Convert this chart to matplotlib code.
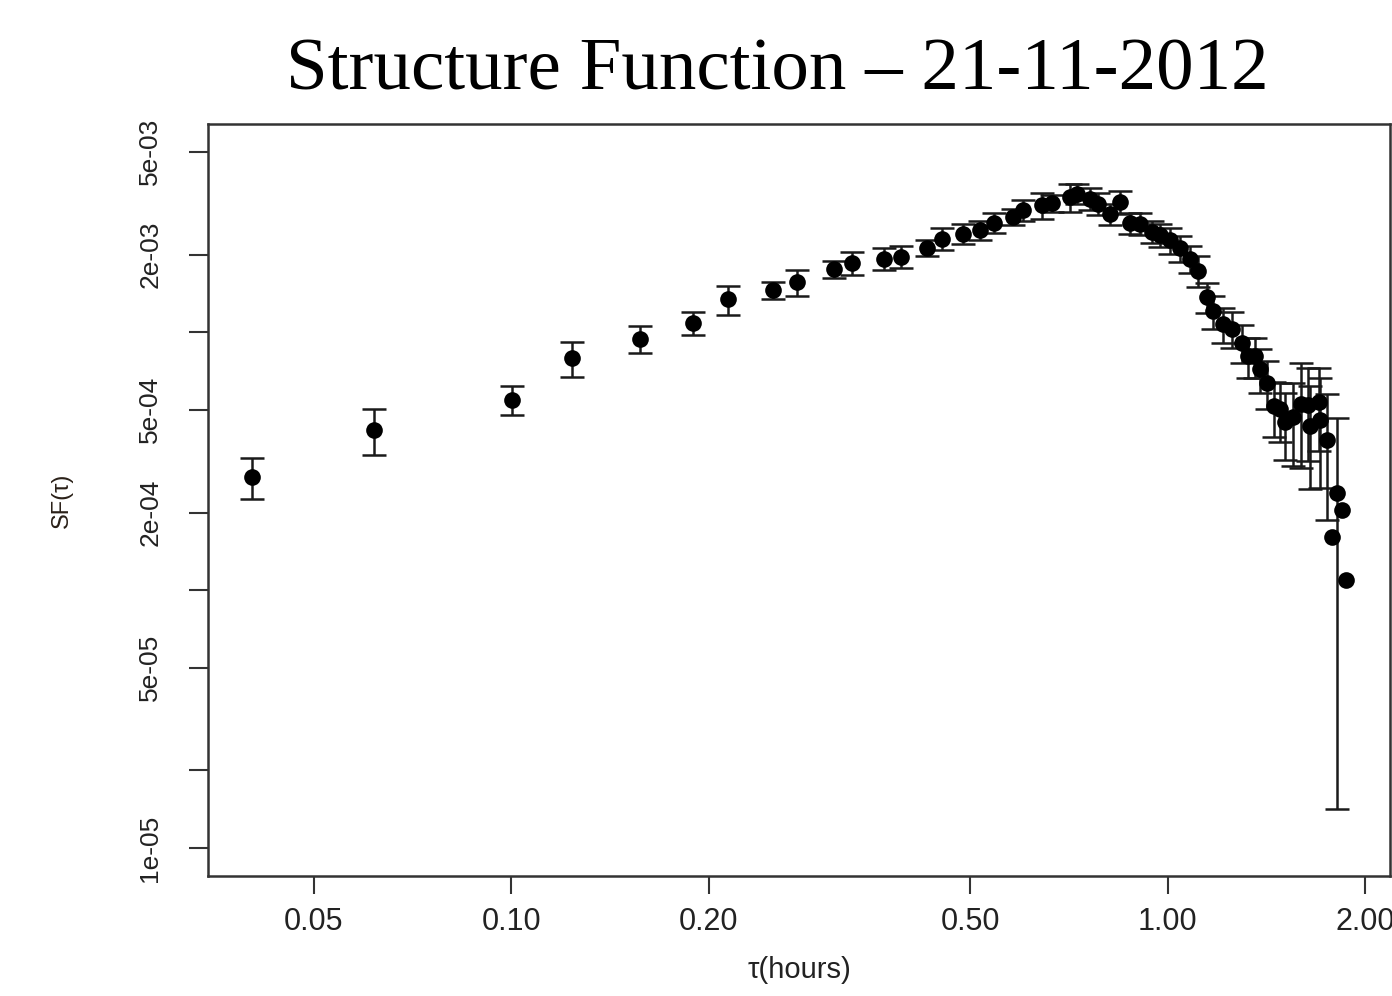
import numpy as np
import matplotlib
matplotlib.use("Agg")
import matplotlib.pyplot as plt
from matplotlib.ticker import FixedLocator, FixedFormatter, NullLocator

# ---- data ----
tau = [0.0402, 0.0617, 0.1002, 0.1237, 0.1570, 0.1894, 0.2135, 0.2500, 0.2720, 0.3101,
       0.3304, 0.3697, 0.3929, 0.4292, 0.4531, 0.4870, 0.5177, 0.5439, 0.5804, 0.6012,
       0.6437, 0.6667, 0.7087, 0.7278, 0.7619, 0.7835, 0.8171, 0.8464, 0.8767, 0.9080,
       0.9454, 0.9740, 1.0088, 1.0449, 1.0822, 1.1131, 1.1488, 1.1733, 1.2129, 1.2520,
       1.2968, 1.3268, 1.3597, 1.3836, 1.4183, 1.4505, 1.4840, 1.5103, 1.5533, 1.5948,
       1.6376, 1.6490, 1.6990, 1.7080, 1.7474, 1.7783, 1.8098, 1.8418, 1.8714]

sf = [2.754e-4, 4.19e-4, 5.475e-4, 7.93e-4, 9.44e-4, 1.088e-3, 1.342e-3, 1.455e-3, 1.562e-3, 1.755e-3,
      1.859e-3, 1.927e-3, 1.962e-3, 2.126e-3, 2.303e-3, 2.409e-3, 2.485e-3, 2.657e-3, 2.803e-3, 2.985e-3,
      3.107e-3, 3.162e-3, 3.336e-3, 3.441e-3, 3.291e-3, 3.148e-3, 2.867e-3, 3.205e-3, 2.645e-3, 2.633e-3,
      2.452e-3, 2.377e-3, 2.273e-3, 2.116e-3, 1.927e-3, 1.731e-3, 1.367e-3, 1.206e-3, 1.074e-3, 1.032e-3,
      9.107e-4, 8.07e-4, 8.07e-4, 7.19e-4, 6.37e-4, 5.166e-4, 5.052e-4, 4.497e-4, 4.68e-4, 5.28e-4,
      5.21e-4, 4.32e-4, 5.355e-4, 4.56e-4, 3.814e-4, 1.605e-4, 2.387e-4, 2.042e-4, 1.094e-4]

sf_err = [4.9e-5, 8.4e-5, 7.0e-5, 1.22e-4, 1.16e-4, 1.13e-4, 1.72e-4, 1.14e-4, 1.85e-4, 1.30e-4,
          1.92e-4, 1.89e-4, 1.92e-4, 1.47e-4, 2.27e-4, 2.13e-4, 2.08e-4, 2.35e-4, 1.95e-4, 2.79e-4,
          3.5e-4, 2.3e-4, 4.1e-4, 3.05e-4, 3.2e-4, 3.1e-4, 2.67e-4, 3.3e-4, 2.47e-4, 2.6e-4,
          2.4e-4, 2.45e-4, 2.57e-4, 2.4e-4, 2.27e-4, 2.4e-4, 1.81e-4, 1.73e-4, 1.65e-4, 1.63e-4,
          1.53e-4, 1.41e-4, 1.41e-4, 1.4e-4, 1.35e-4, 1.23e-4, 1.29e-4, 1.3e-4, 1.66e-4, 2.3e-4,
          2.04e-4, 1.85e-4, 1.9e-4, 2.07e-4, 1.94e-4, np.nan, 2.245e-4, np.nan, np.nan]

x_ticks = [0.05, 0.10, 0.20, 0.50, 1.00, 2.00]
x_ticklabels = ["0.05", "0.10", "0.20", "0.50", "1.00", "2.00"]
y_ticks = [1e-5, 2e-5, 5e-5, 1e-4, 2e-4, 5e-4, 1e-3, 2e-3, 5e-3]
y_ticklabels = ["1e-05", "", "5e-05", "", "2e-04", "5e-04", "", "2e-03", "5e-03"]
y_range = [1e-5, 5e-3]

title = "Structure Function \u2013 21-11-2012"
xlabel = "\u03c4(hours)"
ylabel = "SF(\u03c4)"

# ---- figure ----
W, H = 1392, 996
fig = plt.figure(figsize=(W / 100, H / 100), dpi=100)
fig.patch.set_facecolor("white")

ax_l, ax_r, ax_t, ax_b = 208, 1390, 124, 876
ax = fig.add_axes([ax_l / W, 1 - ax_b / H, (ax_r - ax_l) / W, (ax_b - ax_t) / H])
ax.set_xscale("log")
ax.set_yscale("log")

x = np.array(tau)
y = np.array(sf)
e = np.array(sf_err)
m = np.isfinite(e)

ax.errorbar(x[m], y[m], yerr=e[m], fmt="none", ecolor="#1a1a1a",
            elinewidth=1.8, capsize=8.5, capthick=1.8, zorder=2)
ax.plot(x, y, "o", color="black", markersize=12, markeredgewidth=0, zorder=3)

# R-like 4% axis extension
lx = np.log10(x)
span = lx.max() - lx.min()
ax.set_xlim(10 ** (lx.min() - 0.04 * span), 10 ** (lx.max() + 0.04 * span))
ly = np.log10(y_range)
yspan = ly[1] - ly[0]
ax.set_ylim(10 ** (ly[0] - 0.04 * yspan), 10 ** (ly[1] + 0.04 * yspan))

ax.xaxis.set_major_locator(FixedLocator(x_ticks))
ax.xaxis.set_major_formatter(FixedFormatter(x_ticklabels))
ax.xaxis.set_minor_locator(NullLocator())
ax.yaxis.set_major_locator(FixedLocator(y_ticks))
ax.yaxis.set_major_formatter(FixedFormatter(y_ticklabels))
ax.yaxis.set_minor_locator(NullLocator())

txtcol = "#222222"
ax.tick_params(axis="x", direction="out", length=13, width=1.5, color="#333333",
               pad=9, labelsize=22, labelcolor=txtcol)
ax.tick_params(axis="y", direction="out", length=14, width=1.5, color="#333333",
               pad=19, labelsize=19, labelcolor=txtcol)
for lab in ax.get_xticklabels():
    lab.set_fontfamily("Liberation Sans")
for lab in ax.get_yticklabels():
    lab.set_fontfamily("Liberation Sans")
    lab.set_rotation(90)
    lab.set_va("center")

for sp in ax.spines.values():
    sp.set_color("#333333")
    sp.set_linewidth(1.8)

ax.set_xlabel(xlabel, fontsize=21, family="Liberation Sans", color=txtcol, va="center")
ax.xaxis.set_label_coords(0.5, (ax_b - 970) / (ax_b - ax_t))
ax.set_ylabel(ylabel, fontsize=17, family="Liberation Sans", color="#2a2018", va="center")
ax.yaxis.set_label_coords((62 - ax_l) / (ax_r - ax_l), 0.5)

fig.text(777 / W, 1 - 90 / H, title, ha="center", va="baseline",
         fontsize=54, family="Liberation Serif", color="black")

fig.savefig("out.png", dpi=100, facecolor="white")
